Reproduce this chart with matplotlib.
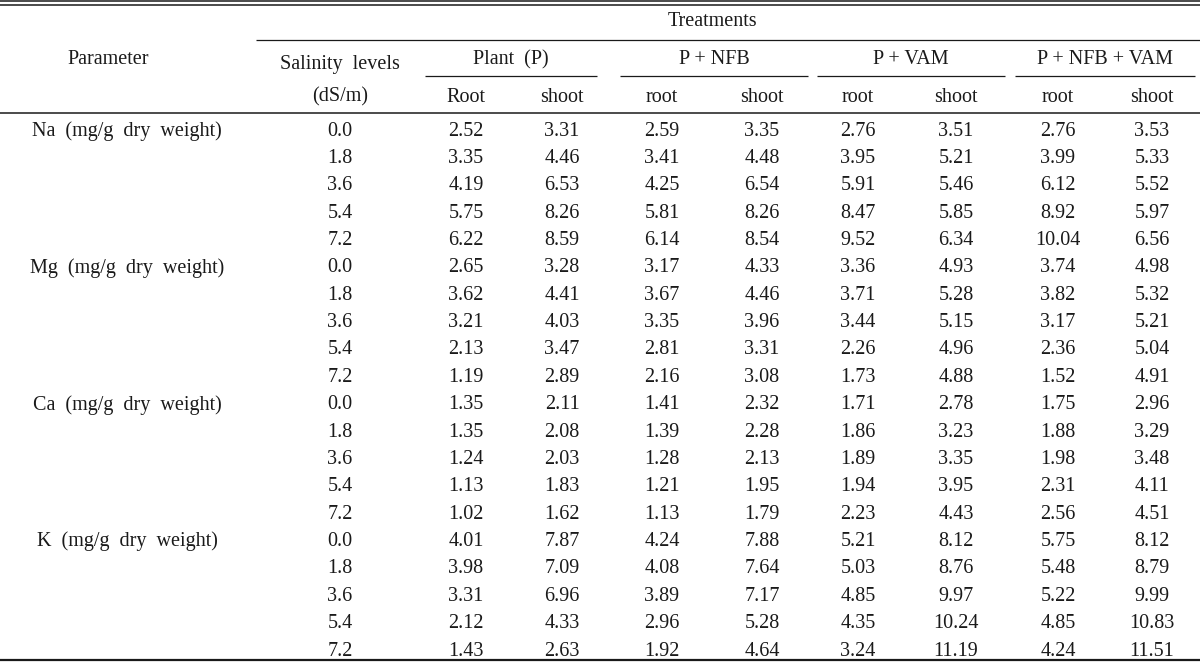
import matplotlib
matplotlib.use("Agg")
import matplotlib.pyplot as plt

# table content
parameters = ["Na  (mg/g  dry  weight)", "Mg  (mg/g  dry  weight)",
              "Ca  (mg/g  dry  weight)", "K  (mg/g  dry  weight)"]
salinity = ["0.0", "1.8", "3.6", "5.4", "7.2"]
treatments = ["Plant  (P)", "P + NFB", "P + VAM", "P + NFB + VAM"]
parts = ["Root", "shoot", "root", "shoot", "root", "shoot", "root", "shoot"]

na = [[2.52, 3.31, 2.59, 3.35, 2.76, 3.51, 2.76, 3.53],
      [3.35, 4.46, 3.41, 4.48, 3.95, 5.21, 3.99, 5.33],
      [4.19, 6.53, 4.25, 6.54, 5.91, 5.46, 6.12, 5.52],
      [5.75, 8.26, 5.81, 8.26, 8.47, 5.85, 8.92, 5.97],
      [6.22, 8.59, 6.14, 8.54, 9.52, 6.34, 10.04, 6.56]]
mg = [[2.65, 3.28, 3.17, 4.33, 3.36, 4.93, 3.74, 4.98],
      [3.62, 4.41, 3.67, 4.46, 3.71, 5.28, 3.82, 5.32],
      [3.21, 4.03, 3.35, 3.96, 3.44, 5.15, 3.17, 5.21],
      [2.13, 3.47, 2.81, 3.31, 2.26, 4.96, 2.36, 5.04],
      [1.19, 2.89, 2.16, 3.08, 1.73, 4.88, 1.52, 4.91]]
ca = [[1.35, 2.11, 1.41, 2.32, 1.71, 2.78, 1.75, 2.96],
      [1.35, 2.08, 1.39, 2.28, 1.86, 3.23, 1.88, 3.29],
      [1.24, 2.03, 1.28, 2.13, 1.89, 3.35, 1.98, 3.48],
      [1.13, 1.83, 1.21, 1.95, 1.94, 3.95, 2.31, 4.11],
      [1.02, 1.62, 1.13, 1.79, 2.23, 4.43, 2.56, 4.51]]
k = [[4.01, 7.87, 4.24, 7.88, 5.21, 8.12, 5.75, 8.12],
     [3.98, 7.09, 4.08, 7.64, 5.03, 8.76, 5.48, 8.79],
     [3.31, 6.96, 3.89, 7.17, 4.85, 9.97, 5.22, 9.99],
     [2.12, 4.33, 2.96, 5.28, 4.35, 10.24, 4.85, 10.83],
     [1.43, 2.63, 1.92, 4.64, 3.24, 11.19, 4.24, 11.51]]
blocks = [na, mg, ca, k]

FONT = "Liberation Serif"
FS = 14.5
INK = "#1a1a1a"

fig = plt.figure(figsize=(12, 6.62), dpi=100)
ax = fig.add_axes([0, 0, 1, 1])
ax.set_xlim(0, 1200)
ax.set_ylim(662, 0)
ax.axis("off")


def txt(x, y, s, ha="center"):
    # glyphs sit a little high with va="center", nudge down
    ax.text(x, y + 2, s, ha=ha, va="center", fontsize=FS, family=FONT, color=INK)


def hline(y, x0, x1, lw=1.0):
    ax.plot([x0, x1], [y, y], color=INK, lw=lw, solid_capstyle="butt")


# rules
hline(1.0, 0, 1200, 1.1)
hline(4.5, 0, 1200, 1.1)
hline(40, 256, 1200, 0.9)
hline(113, 0, 1200, 1.1)
hline(660, 0, 1200, 1.6)

group_x = [(425, 597), (620, 808), (817, 1005), (1015, 1195)]
for (x0, x1) in group_x:
    hline(76, x0, x1, 0.9)

# header
txt(712, 20, "Treatments")
txt(108, 58, "Parameter")
txt(340, 63, "Salinity  levels")
txt(340, 95, "(dS/m)")
for (x0, x1), name in zip(group_x, treatments):
    txt((x0 + x1) / 2, 58, name)

col_x = [466, 562, 662, 762, 858, 956, 1058, 1152]
for x, p in zip(col_x, parts):
    txt(x, 95, p)

# body
y0, dy = 129, 27.37
row = 0
for name, block in zip(parameters, blocks):
    txt(127, y0 + row * dy, name)
    for sal, vals in zip(salinity, block):
        y = y0 + row * dy
        txt(340, y, sal)
        for x, v in zip(col_x, vals):
            txt(x, y, f"{v:.2f}")
        row += 1

fig.savefig("out.png", dpi=100)
